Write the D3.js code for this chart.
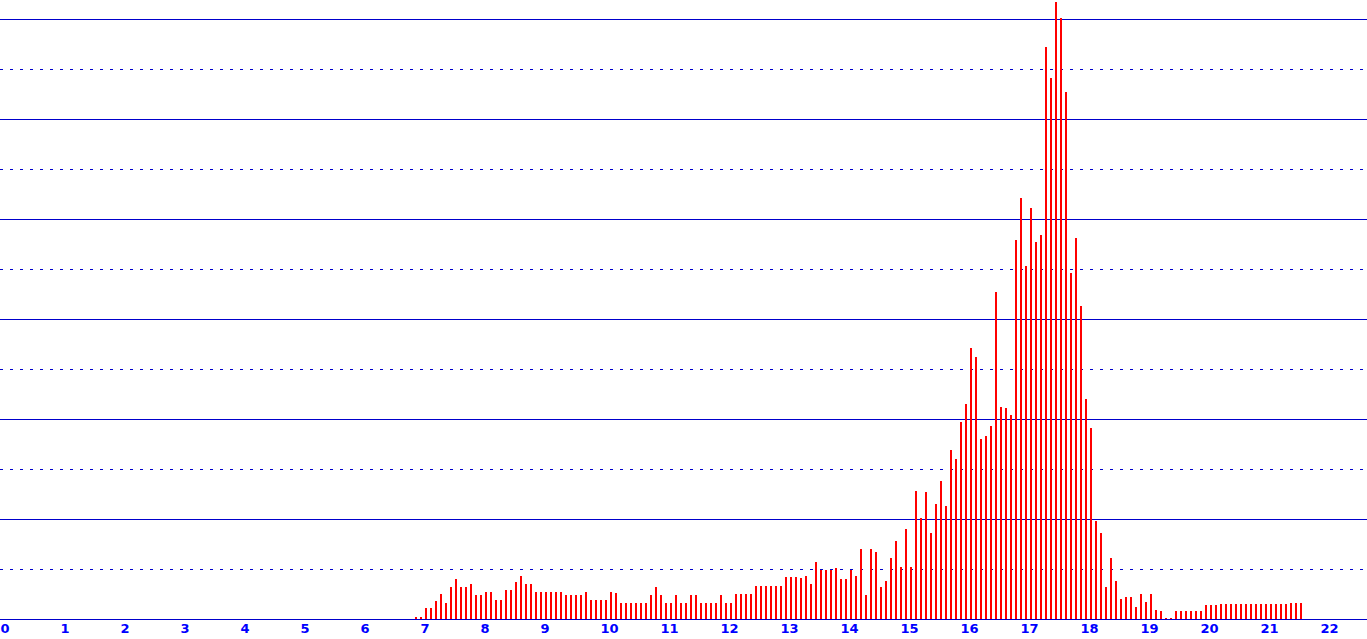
<!DOCTYPE html>
<html>
<head>
<meta charset="utf-8">
<script src="https://cdn.jsdelivr.net/npm/d3@7/dist/d3.min.js"></script>
<style>
  html, body { margin: 0; padding: 0; background: #ffffff; overflow: hidden; }
  svg { display: block; }
</style>
</head>
<body>
<script>
// ---- Data ----
// hour-of-day tick labels on the x axis
const hourLabels = ["0","1","2","3","4","5","6","7","8","9","10","11","12","13","14","15","16","17","18","19","20","21","22"];
// time of the first bar (minutes after midnight) and bar spacing (minutes)
const firstBarMinute = 415;   // 6:55
const binMinutes = 5;
// bar values, one per 5-minute bin, 6:55 .. 21:40
const values = [
  // 6:55
  2,
  // 7:00 - 7:55
  2, 11, 11, 18, 25, 16, 32, 40, 32, 32, 35, 24,
  // 8:00 - 8:55
  24, 27, 27, 19, 19, 29, 29, 37, 43, 35, 35, 27,
  // 9:00 - 9:55
  27, 27, 27, 27, 27, 24, 24, 24, 24, 27, 19, 19,
  // 10:00 - 10:55
  19, 19, 27, 26, 16, 16, 16, 16, 16, 16, 24, 32,
  // 11:00 - 11:55
  24, 16, 16, 24, 16, 16, 24, 24, 16, 16, 16, 16,
  // 12:00 - 12:55
  24, 16, 16, 25, 25, 25, 25, 33, 33, 33, 33, 33,
  // 13:00 - 13:55
  33, 42, 42, 42, 41, 43, 35, 57, 49, 49, 49, 51,
  // 14:00 - 14:55
  40, 40, 49, 43, 70, 24, 70, 67, 32, 38, 61, 78,
  // 15:00 - 15:55
  52, 90, 52, 128, 101, 127, 86, 115, 138, 113, 169, 160,
  // 16:00 - 16:55
  197, 215, 271, 262, 180, 183, 193, 327, 212, 211, 204, 379,
  // 17:00 - 17:55
  421, 353, 411, 377, 384, 572, 541, 617, 601, 527, 346, 381,
  // 18:00 - 18:55
  313, 220, 191, 98, 86, 32, 61, 38, 20, 22, 22, 12,
  // 19:00 - 19:55
  25, 17, 25, 9, 8, 1, 1, 8, 8, 8, 8, 8,
  // 20:00 - 20:55
  8, 14, 14, 14, 15, 15, 15, 15, 15, 15, 15, 15,
  // 21:00 - 21:40
  15, 15, 15, 15, 15, 15, 16, 16, 16
];
// horizontal grid values (solid at multiples of 100, dotted between)
const gridValues = [50, 100, 150, 200, 250, 300, 350, 400, 450, 500, 550, 600];

// ---- Layout ----
const W = 1367, H = 639;
const baseY = 619;
const gridColor = "#0000cc";
const labelColor = "#0000ff";
const barColor = "#ff0000";

const svg = d3.select("body").append("svg")
  .attr("width", W).attr("height", H);

const x = d3.scaleLinear().domain([0, 22 * 60]).range([0, 1320]);
const y = d3.scaleLinear().domain([0, 600]).range([baseY, baseY - 600]);

// grid lines
svg.append("g").selectAll("line").data(gridValues).join("line")
  .attr("x1", 0).attr("x2", W)
  .attr("y1", d => Math.round(y(d)) + 0.5)
  .attr("y2", d => Math.round(y(d)) + 0.5)
  .attr("stroke", gridColor)
  .attr("stroke-width", 1)
  .attr("stroke-dasharray", d => d % 100 === 0 ? null : "3,7")
  .attr("shape-rendering", "crispEdges");

// bars
const bars = values.map((v, i) => ({ t: firstBarMinute + i * binMinutes, v }));
svg.append("g").selectAll("rect").data(bars).join("rect")
  .attr("x", d => x(d.t))
  .attr("y", d => y(d.v))
  .attr("width", 2)
  .attr("height", d => y(0) - y(d.v))
  .attr("fill", barColor)
  .attr("shape-rendering", "crispEdges");

// x axis baseline
const xAxis = d3.axisBottom(x)
  .tickValues(hourLabels.map((_, i) => i * 60))
  .tickFormat((d, i) => hourLabels[i])
  .tickSize(0)
  .tickPadding(0);

const ax = svg.append("g")
  .attr("transform", `translate(0,${baseY + 0.5})`)
  .call(xAxis);
ax.select(".domain")
  .attr("d", `M0,0H${W}`)
  .attr("stroke", gridColor)
  .attr("shape-rendering", "crispEdges");
ax.selectAll(".tick text")
  .attr("text-anchor", "start")
  .attr("y", 13)
  .attr("dy", 0)
  .attr("fill", labelColor)
  .style("font-family", "'DejaVu Sans', sans-serif")
  .style("font-weight", "bold")
  .style("font-size", "13px");
</script>
</body>
</html>
